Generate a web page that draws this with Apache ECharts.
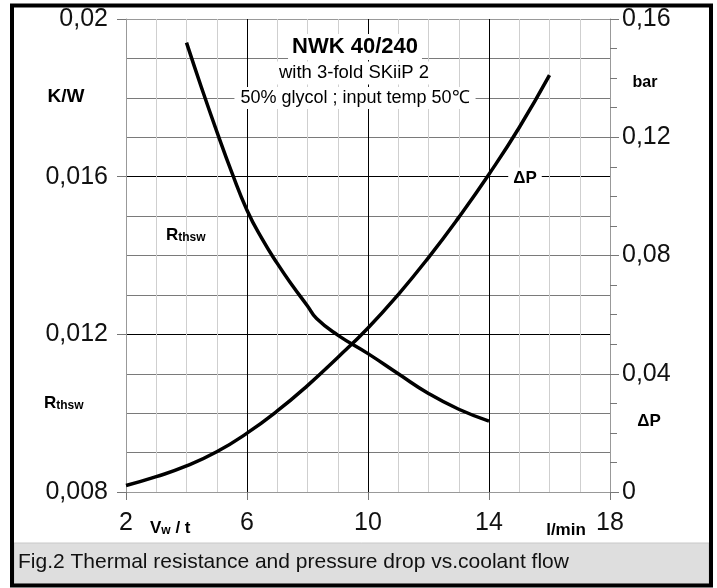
<!DOCTYPE html>
<html>
<head>
<meta charset="utf-8">
<script src="https://cdn.jsdelivr.net/npm/echarts@6/dist/echarts.min.js"></script>
<style>
html,body{margin:0;padding:0;background:#fff;}
#chart{width:717px;height:588px;}
</style>
</head>
<body>
<div id="chart"></div>
<script>
// ---- data ----
const flowR = [4, 4.5, 5, 5.5, 6, 6.5, 7, 7.5, 8, 8.3, 9, 10, 11, 12, 13, 14];            // l/min
const rthsw = [0.0194, 0.01825, 0.01715, 0.0161, 0.01515, 0.01442, 0.01380, 0.01324, 0.01272, 0.0124, 0.01198, 0.01151, 0.0110, 0.0105, 0.0101, 0.0098]; // K/W
const flowP = [2, 3, 4, 5, 6, 7, 8, 9, 10, 11, 12, 13, 14, 15, 16];                        // l/min
const deltaP = [0.0022, 0.0052, 0.0088, 0.0136, 0.0199, 0.0274, 0.0360, 0.0455, 0.0555, 0.0668, 0.0793, 0.0929, 0.1075, 0.1233, 0.1410]; // bar
const xTicks = ['2', '6', '10', '14', '18'];
const leftTicks = ['0,008', '0,012', '0,016', '0,02'];
const rightTicks = ['0', '0,04', '0,08', '0,12', '0,16'];

const FONT = "'Liberation Sans', Arial, Helvetica, sans-serif";
const chart = echarts.init(document.getElementById('chart'), null, {renderer: 'canvas'});

const xMin = 2, xStep = 4;
const lMin = 0.008, lStep = 0.004;
const rMin = 0, rStep = 0.04;

function pairs(xs, ys) { return xs.map((x, i) => [x, ys[i]]); }

const option = {
  animation: false,
  backgroundColor: '#fff',
  grid: {left: 126, right: 107, top: 19, bottom: 96, containLabel: false},
  xAxis: {
    type: 'value', min: 2, max: 18, interval: xStep,
    axisLine: {show: true, lineStyle: {color: '#999', width: 1}},
    axisTick: {show: true, length: 8, lineStyle: {color: '#777'}},
    axisLabel: {
      margin: 19, fontSize: 25, color: '#111', fontFamily: FONT,
      formatter: v => xTicks[Math.round((v - xMin) / xStep)]
    },
    splitLine: {show: true, lineStyle: {color: ['#999', '#000', '#000', '#000', '#999'], width: 1}},
    minorTick: {show: false, splitNumber: 4},
    minorSplitLine: {show: true, lineStyle: {color: '#cfcfcf', width: 1}}
  },
  yAxis: [
    {
      type: 'value', min: 0.008, max: 0.02, interval: lStep, position: 'left',
      axisLine: {show: true, lineStyle: {color: '#999'}},
      axisTick: {show: true, length: 9, lineStyle: {color: '#777'}},
      axisLabel: {
        margin: 18, fontSize: 25, color: '#111', fontFamily: FONT,
        formatter: v => leftTicks[Math.round((v - lMin) / lStep)]
      },
      splitLine: {show: true, lineStyle: {color: ['#999', '#000', '#000', '#999'], width: 1}},
      minorTick: {show: false, splitNumber: 4},
      minorSplitLine: {show: true, lineStyle: {color: '#7a7a7a', width: 1}}
    },
    {
      type: 'value', min: 0, max: 0.16, interval: rStep, position: 'right',
      axisLine: {show: true, lineStyle: {color: '#999'}},
      axisTick: {show: true, length: 9, lineStyle: {color: '#777'}},
      minorTick: {show: true, splitNumber: 4, length: 7, lineStyle: {color: '#777'}},
      axisLabel: {
        margin: 12, fontSize: 25, color: '#111', fontFamily: FONT,
        formatter: v => rightTicks[Math.round((v - rMin) / rStep)]
      },
      splitLine: {show: false}
    }
  ],
  series: [
    {
      name: 'Rthsw', type: 'line', yAxisIndex: 0, data: pairs(flowR, rthsw),
      showSymbol: false, smooth: 0.5,
      lineStyle: {color: '#000', width: 3.5}, z: 5
    },
    {
      name: 'dP', type: 'line', yAxisIndex: 1, data: pairs(flowP, deltaP),
      showSymbol: false, smooth: 0.5,
      lineStyle: {color: '#000', width: 3.5}, z: 5
    }
  ],
  graphic: [
    {type: 'rect', z: 0, silent: true, shape: {x: 14, y: 543, width: 695, height: 41}, style: {fill: '#dedede', stroke: '#c8c8c8', lineWidth: 1}},
    {type: 'text', z: 20, left: 18, top: 552, style: {text: 'Fig.2 Thermal resistance and pressure drop vs.coolant flow', font: '21px ' + FONT, fill: '#111'}},
    {type: 'rect', z: 30, silent: true, shape: {x: 12, y: 5.5, width: 699, height: 580}, style: {fill: 'none', stroke: '#000', lineWidth: 4}},

    // title block
    {type: 'text', z: 20, x: 355, y: 47, style: {text: 'NWK 40/240', font: 'bold 22px ' + FONT, fill: '#000', align: 'center', verticalAlign: 'middle', backgroundColor: '#fff', padding: [2, 4]}},
    {type: 'text', z: 20, x: 354, y: 73, style: {text: 'with 3-fold SKiiP 2', font: '18.5px ' + FONT, fill: '#000', align: 'center', verticalAlign: 'middle', backgroundColor: '#fff', padding: [2, 6]}},
    {type: 'text', z: 20, x: 355, y: 98, style: {text: '50% glycol ; input temp 50℃', font: '18px ' + FONT, fill: '#000', align: 'center', verticalAlign: 'middle', backgroundColor: '#fff', padding: [2, 6]}},

    // axis names / series labels
    {type: 'text', z: 20, x: 66, y: 97, style: {text: 'K/W', font: 'bold 19px ' + FONT, fill: '#000', align: 'center', verticalAlign: 'middle'}},
    {type: 'text', z: 20, x: 645, y: 83, style: {text: 'bar', font: 'bold 16px ' + FONT, fill: '#000', align: 'center', verticalAlign: 'middle'}},
    {type: 'text', z: 20, x: 166, y: 234, style: {text: '{a|R}{b|thsw}', verticalAlign: 'middle', rich: {a: {font: 'bold 17px ' + FONT, fill: '#000', verticalAlign: 'bottom'}, b: {font: 'bold 12px ' + FONT, fill: '#000', padding: [7, 0, 0, 0], verticalAlign: 'bottom'}}}},
    {type: 'text', z: 20, x: 44, y: 402, style: {text: '{a|R}{b|thsw}', verticalAlign: 'middle', rich: {a: {font: 'bold 17px ' + FONT, fill: '#000', verticalAlign: 'bottom'}, b: {font: 'bold 12px ' + FONT, fill: '#000', padding: [7, 0, 0, 0], verticalAlign: 'bottom'}}}},
    {type: 'text', z: 20, x: 525, y: 178, style: {text: 'ΔP', font: 'bold 17px ' + FONT, fill: '#000', align: 'center', verticalAlign: 'middle', backgroundColor: '#fff', padding: [2, 5]}},
    {type: 'text', z: 20, x: 649, y: 421, style: {text: 'ΔP', font: 'bold 17px ' + FONT, fill: '#000', align: 'center', verticalAlign: 'middle'}},
    {type: 'text', z: 20, x: 150, y: 527, style: {text: '{a|V}{b|w}{a| / t}', verticalAlign: 'middle', rich: {a: {font: 'bold 17px ' + FONT, fill: '#000', verticalAlign: 'bottom'}, b: {font: 'bold 12px ' + FONT, fill: '#000', padding: [7, 0, 0, 0], verticalAlign: 'bottom'}}}},
    {type: 'text', z: 20, x: 566, y: 530, style: {text: 'l/min', font: 'bold 17px ' + FONT, fill: '#000', align: 'center', verticalAlign: 'middle'}}
  ]
};
chart.setOption(option);
</script>
</body>
</html>
